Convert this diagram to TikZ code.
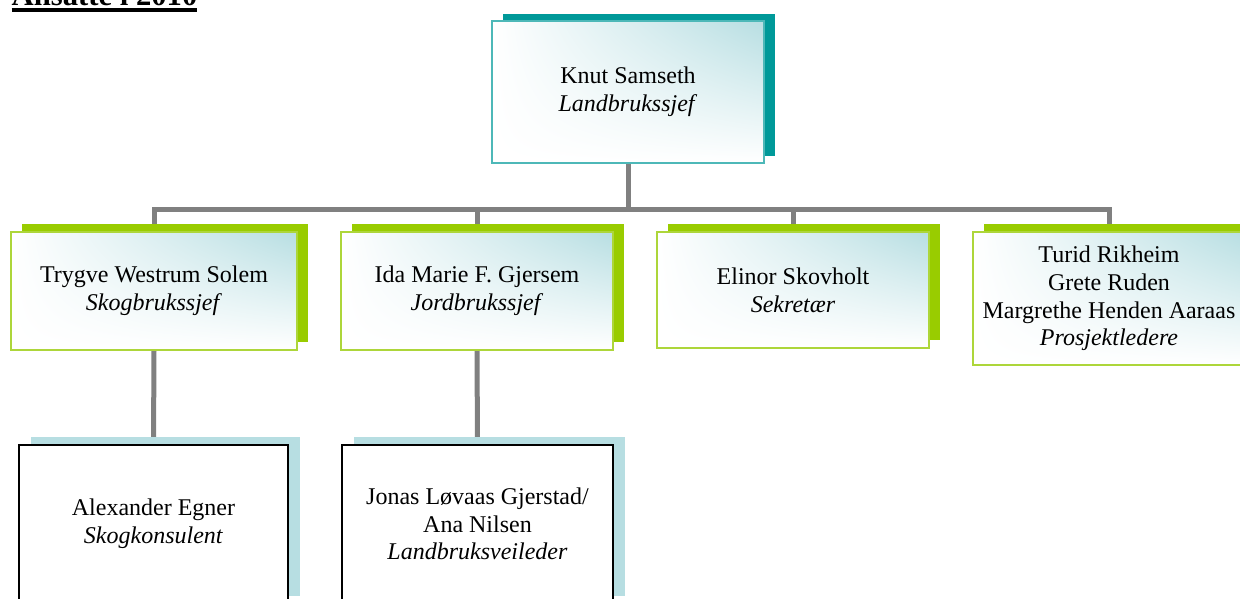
\documentclass[tikz,border=0pt]{standalone}
\usepackage{fontspec}
\setmainfont{Liberation Serif}
\usetikzlibrary{shadows,shadings,backgrounds}

\definecolor{tealshadow}{HTML}{009999}
\definecolor{tealline}{HTML}{4DB8B8}
\definecolor{limeshadow}{HTML}{99CC00}
\definecolor{limeline}{HTML}{ADD63A}
\definecolor{iceblue}{HTML}{B7DEE2}
\definecolor{busgray}{HTML}{808080}

\newcommand{\titleul}[1]{\sbox0{#1}\rlap{\rule[-4.3pt]{\wd0}{2.8pt}}\usebox0}

\tikzset{
    boxtext/.style={align=center, inner sep=0pt,
        font=\fontsize{18pt}{20.8pt}\selectfont},
    icefill/.style={upper right=iceblue, upper left=white,
        lower left=white, lower right=white},
    chiefbox/.style={boxtext, icefill, draw=tealline, line width=1.5pt,
        general shadow={fill=tealshadow, shadow xshift=8.25pt, shadow yshift=5.25pt}},
    headbox/.style={boxtext, icefill, draw=limeline, line width=1.5pt,
        general shadow={fill=limeshadow, shadow xshift=8.25pt, shadow yshift=6pt}},
    staffbox/.style={boxtext, fill=white, draw=black, line width=1.5pt,
        general shadow={fill=iceblue, shadow xshift=9pt, shadow yshift=6pt}},
    orgline/.style={draw=busgray, line width=3.75pt}
}

\begin{document}
\begin{tikzpicture}[x=0.75pt, y=-0.75pt]
    \useasboundingbox (0,0) rectangle (1240,599);

    %Tittel
    \node[anchor=base west, font=\fontsize{23pt}{26pt}\selectfont\bfseries]
        (title) at (7,6) {\titleul{Ansatte i 2010}};

    %Leder
    \node[chiefbox, minimum width=204pt, minimum height=106.5pt]
        (knut) at (628,92) {Knut Samseth\\ \textit{Landbrukssjef}};

    %Andre nivaa
    \node[headbox, minimum width=214.5pt, minimum height=88.5pt]
        (trygve) at (154,291) {Trygve Westrum Solem\\ \textit{Skogbrukssjef}};
    \node[headbox, minimum width=204pt, minimum height=88.5pt]
        (ida) at (477,291) {Ida Marie F. Gjersem\\ \textit{Jordbrukssjef}};
    \node[headbox, minimum width=204pt, minimum height=87pt]
        (elinor) at (793,290) {Elinor Skovholt\\ \textit{Sekretær}};
    \node[headbox, minimum width=204pt, minimum height=99.75pt]
        (turid) at (1109,298.5) {Turid Rikheim\\ Grete Ruden\\
        Margrethe Henden Aaraas\\ \textit{Prosjektledere}};

    %Tredje nivaa
    \node[staffbox, minimum width=201.75pt, minimum height=119.25pt]
        (egner) at (153.5,524) {Alexander Egner\\ \textit{Skogkonsulent}};
    \node[staffbox, minimum width=203.25pt, minimum height=119.25pt]
        (jonas) at (477.5,524) {Jonas Løvaas Gjerstad/\\ Ana Nilsen\\
        \textit{Landbruksveileder}};

    %Linjer
    \begin{scope}[on background layer]
        \foreach \n in {trygve,ida,elinor,turid}{
            \draw[orgline] (knut.south) -- ++(0,46) -| (\n.north);}
        \draw[orgline] (trygve.south) -- (egner.north);
        \draw[orgline] (ida.south) -- (jonas.north);
    \end{scope}
\end{tikzpicture}
\end{document}
